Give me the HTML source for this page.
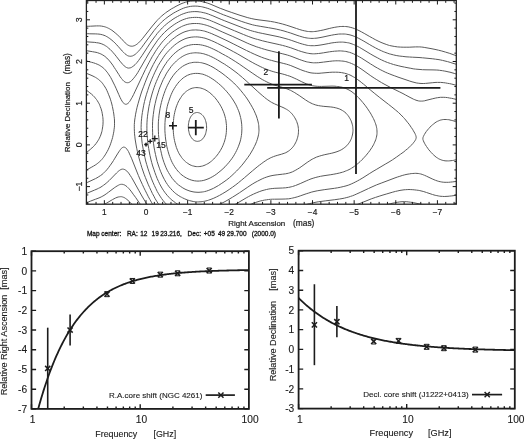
<!DOCTYPE html>
<html><head><meta charset="utf-8"><style>
html,body{margin:0;padding:0;background:#fff;}
svg{display:block;will-change:transform;}
text{font-family:"Liberation Sans", sans-serif;fill:#1a1a1a;}
.ct{stroke:#1a1a1a;stroke-width:0.12;}
</style></head><body>
<svg width="525" height="439" viewBox="0 0 525 439">
<rect width="525" height="439" fill="#fff"/>
<clipPath id="cpc"><rect x="86.4" y="0.5" width="369.9" height="203.7"/></clipPath>
<path clip-path="url(#cpc)" fill="none" stroke="#5a5a5a" stroke-width="1.0" d="M198.6,141.2 199.5,141.0 200.2,140.7 200.8,140.4 201.2,140.1 202.0,139.5 202.8,138.8 203.5,137.8 204.1,137.0 204.6,136.0 205.1,135.0 205.6,133.8 205.9,132.5 206.2,131.2 206.4,130.0 206.6,128.5 206.6,127.0 206.5,125.8 206.4,124.2 206.2,123.0 205.9,121.8 205.5,120.5 205.1,119.2 204.6,118.2 204.0,117.2 203.4,116.2 202.8,115.5 202.0,114.7 201.2,114.0 200.2,113.4 199.5,113.0 198.5,112.7 198.0,112.6 197.5,112.5 196.8,112.5 196.2,112.6 195.8,112.7 195.0,112.9 194.5,113.1 194.0,113.4 193.2,113.9 192.5,114.5 191.8,115.4 191.1,116.2 190.5,117.2 190.0,118.2 189.5,119.5 189.0,121.0 188.8,122.3 188.5,123.8 188.4,125.2 188.3,126.8 188.4,128.2 188.5,129.8 188.8,131.1 189.1,132.5 189.4,133.8 189.9,135.0 190.5,136.2 191.1,137.2 191.8,138.2 192.5,139.1 193.2,139.7 194.0,140.3 194.5,140.6 195.0,140.8 195.8,141.1 196.2,141.2 196.8,141.3 197.2,141.4 197.8,141.3 198.6,141.2M199.9,166.5 201.2,166.3 202.5,166.0 204.0,165.5 205.2,165.0 206.5,164.4 207.8,163.7 209.0,163.0 210.2,162.1 211.5,161.1 212.7,160.0 213.8,159.0 215.0,157.7 216.2,156.3 217.3,155.0 218.4,153.5 219.4,152.0 220.4,150.5 221.2,149.0 222.0,147.5 222.8,145.8 223.5,144.1 224.1,142.5 224.6,141.0 225.1,139.2 225.5,137.6 225.8,136.0 226.1,134.2 226.3,132.5 226.4,130.8 226.5,129.0 226.5,127.2 226.5,125.5 226.3,123.8 226.1,122.0 225.9,120.2 225.5,118.5 225.1,116.8 224.6,115.0 224.0,113.2 223.5,111.8 222.7,110.0 222.0,108.4 221.2,106.8 220.2,105.1 219.3,103.5 218.2,102.0 217.2,100.5 216.0,99.0 214.8,97.5 213.5,96.1 212.2,94.9 211.0,93.8 209.8,92.7 208.5,91.8 207.2,90.9 206.0,90.2 204.8,89.5 203.5,89.0 202.2,88.5 200.8,88.1 199.5,87.8 198.2,87.7 197.0,87.6 195.8,87.6 194.5,87.7 193.2,88.0 192.2,88.2 191.0,88.6 189.8,89.2 188.8,89.7 187.5,90.5 186.5,91.2 185.5,92.0 184.5,92.9 183.5,94.0 182.5,95.1 181.7,96.2 180.8,97.6 179.9,99.0 179.0,100.5 178.2,102.0 177.5,103.7 176.9,105.2 176.2,107.0 175.7,108.8 175.1,110.8 174.7,112.5 174.3,114.5 173.9,116.5 173.7,118.5 173.5,120.5 173.3,122.5 173.2,124.5 173.2,126.5 173.2,128.8 173.3,130.8 173.4,132.8 173.6,134.8 173.8,136.5 174.1,138.5 174.5,140.4 174.9,142.2 175.4,144.0 175.9,145.8 176.4,147.5 177.0,149.0 177.7,150.8 178.4,152.2 179.2,153.8 180.0,155.1 180.8,156.2 181.6,157.5 182.5,158.6 183.5,159.7 184.5,160.8 185.5,161.7 186.5,162.5 187.8,163.4 189.0,164.2 190.0,164.8 191.2,165.3 192.5,165.8 193.8,166.1 195.0,166.4 196.2,166.6 197.5,166.6 198.8,166.6 199.9,166.5M199.6,181.0 201.5,180.8 203.2,180.5 205.0,180.0 207.0,179.3 209.0,178.5 210.8,177.6 212.8,176.5 214.8,175.3 216.8,173.9 218.9,172.2 221.0,170.5 223.0,168.7 225.0,166.8 226.8,164.8 228.6,162.8 230.2,160.8 231.7,158.8 233.1,156.8 234.3,154.8 235.6,152.5 236.6,150.5 237.7,148.2 238.5,146.2 239.3,144.0 240.0,142.0 240.6,139.8 241.0,137.8 241.4,135.5 241.7,133.2 241.8,131.0 241.9,128.8 241.8,126.5 241.7,124.2 241.4,122.0 241.1,119.8 240.6,117.5 240.0,115.2 239.4,113.0 238.6,110.8 237.6,108.5 236.6,106.2 235.6,104.2 234.3,102.0 233.1,100.0 231.6,97.8 230.2,95.8 228.6,93.8 226.9,91.8 225.0,89.6 222.9,87.5 220.8,85.5 218.5,83.5 216.4,81.8 214.2,80.1 212.2,78.8 210.2,77.5 208.4,76.5 206.5,75.6 204.5,74.8 202.8,74.2 201.8,74.0 200.8,73.8 199.0,73.5 197.2,73.4 195.5,73.4 193.8,73.5 192.2,73.8 190.5,74.2 189.0,74.7 187.5,75.3 186.0,76.1 184.6,77.0 183.2,77.9 181.8,79.2 180.5,80.3 179.1,81.8 177.9,83.2 176.7,84.8 175.5,86.5 174.3,88.5 173.2,90.3 172.2,92.3 171.2,94.5 170.3,96.8 169.5,99.0 168.7,101.5 167.9,104.0 167.2,106.7 166.7,109.2 166.2,112.0 165.8,114.6 165.4,117.2 165.2,120.0 165.0,122.5 164.9,125.2 164.9,128.0 164.9,130.8 165.1,133.5 165.3,136.2 165.6,139.0 166.0,141.5 166.4,144.2 166.9,146.8 167.5,149.3 168.2,151.8 168.9,154.2 169.7,156.5 170.5,158.6 171.4,160.8 172.2,162.5 173.3,164.5 174.3,166.2 175.5,168.0 176.6,169.5 177.8,171.0 179.2,172.5 180.5,173.8 182.0,175.1 183.5,176.2 185.0,177.2 186.5,178.0 188.0,178.8 189.8,179.5 191.2,180.0 193.0,180.5 194.5,180.8 196.2,181.0 198.0,181.1 199.6,181.0M200.1,192.2 202.2,192.0 203.5,191.8 204.5,191.6 206.5,191.1 208.8,190.3 211.0,189.4 213.5,188.3 216.0,186.9 218.5,185.5 221.2,183.7 224.0,181.8 226.8,179.8 229.3,177.8 231.9,175.5 234.3,173.2 236.6,171.0 239.0,168.5 241.4,165.8 243.7,163.0 245.8,160.2 247.8,157.5 249.7,154.8 251.4,152.0 253.0,149.2 254.4,146.5 255.6,144.0 256.6,141.5 257.4,139.2 258.0,137.0 258.5,134.8 258.7,133.8 258.8,132.5 258.9,131.5 259.0,130.2 258.9,128.0 258.8,125.8 258.6,124.5 258.4,123.2 257.9,121.0 257.2,118.5 256.4,116.0 255.2,113.2 254.0,110.5 252.6,107.8 250.9,104.8 249.2,102.0 247.3,99.0 245.3,96.2 243.2,93.5 241.0,90.8 238.6,88.0 236.3,85.5 233.8,83.0 231.1,80.5 228.2,78.1 225.4,75.8 222.0,73.2 218.8,71.0 215.8,69.0 213.0,67.3 210.5,66.0 208.2,64.9 206.0,64.0 204.0,63.4 202.8,63.1 201.8,62.8 200.5,62.6 199.5,62.5 198.2,62.3 197.2,62.3 195.2,62.3 194.2,62.3 193.2,62.4 191.5,62.7 190.5,62.9 189.5,63.1 187.8,63.7 186.0,64.5 184.2,65.4 182.5,66.4 180.8,67.7 179.2,69.0 177.5,70.6 176.0,72.1 174.4,74.0 173.0,75.8 171.5,78.0 170.1,80.2 168.9,82.5 167.5,85.2 166.3,87.8 165.2,90.5 164.1,93.5 163.1,96.5 162.2,99.5 161.4,102.5 160.6,105.8 160.0,108.8 159.5,112.0 159.0,115.2 158.7,118.5 158.4,121.8 158.3,125.0 158.3,128.0 158.4,131.2 158.5,134.5 158.8,137.8 159.1,141.0 159.6,144.2 160.1,147.5 160.8,150.7 161.5,153.8 162.2,156.8 163.1,159.8 164.0,162.5 165.0,165.1 166.1,167.8 167.2,170.2 168.5,172.5 169.8,174.7 171.0,176.6 172.3,178.5 173.8,180.2 175.3,182.0 177.0,183.6 178.6,185.0 180.3,186.2 182.2,187.5 184.0,188.6 186.0,189.6 188.0,190.4 190.0,191.1 192.0,191.6 194.0,192.0 196.0,192.2 198.0,192.3 199.0,192.3 200.1,192.2M201.0,201.8 202.2,201.6 203.5,201.4 204.8,201.2 206.0,200.9 207.2,200.6 208.5,200.2 211.0,199.3 213.8,198.2 216.5,196.9 219.5,195.4 222.8,193.5 226.0,191.6 229.2,189.5 232.5,187.2 235.8,184.8 238.7,182.5 241.7,180.0 244.7,177.5 252.5,170.8 257.2,166.9 259.5,165.1 261.8,163.4 263.8,161.9 265.8,160.6 267.2,159.6 268.8,158.8 270.2,158.0 271.8,157.3 273.5,156.6 275.2,156.0 277.2,155.4 281.5,154.2 283.0,153.7 284.2,153.3 285.8,152.7 287.0,152.0 288.2,151.3 289.2,150.6 290.2,149.8 291.2,148.9 292.2,147.8 293.1,146.8 294.0,145.5 294.8,144.2 295.5,142.9 296.2,141.5 296.8,140.1 297.2,138.8 297.7,137.2 298.0,135.8 298.3,134.2 298.4,132.8 298.5,131.2 298.5,129.8 298.4,128.5 298.2,127.0 298.0,125.8 297.6,124.2 297.2,123.0 296.7,121.5 296.1,120.2 295.5,119.0 294.8,117.8 294.0,116.5 293.2,115.4 292.3,114.2 291.4,113.2 290.5,112.3 289.5,111.4 288.5,110.6 287.5,109.9 286.5,109.3 285.2,108.6 284.1,108.0 281.9,107.0 276.0,104.5 274.5,103.8 273.0,103.1 271.5,102.3 270.2,101.5 269.0,100.7 267.8,99.9 266.2,98.7 264.5,97.4 262.8,95.9 261.0,94.4 257.2,91.0 249.4,83.8 246.1,80.8 242.4,77.5 238.8,74.5 237.0,73.0 235.0,71.5 233.0,70.0 230.9,68.5 228.8,67.0 226.8,65.7 224.6,64.2 222.2,62.8 217.6,60.0 215.5,58.8 213.8,57.9 212.0,57.0 210.2,56.2 208.5,55.4 207.0,54.9 205.2,54.3 203.8,53.8 202.2,53.5 200.8,53.2 199.2,53.0 197.8,52.9 196.2,52.8 194.8,52.8 193.5,52.9 192.5,53.0 190.5,53.3 189.2,53.6 188.2,53.9 187.2,54.2 186.2,54.6 185.2,55.0 184.2,55.5 183.2,56.0 182.2,56.6 180.4,57.8 179.5,58.4 178.5,59.2 177.5,60.0 176.5,60.9 174.8,62.6 173.0,64.4 171.2,66.5 169.5,68.9 167.9,71.2 166.2,73.9 164.8,76.7 163.2,79.6 161.8,82.8 160.5,85.9 159.2,89.2 158.1,92.8 157.0,96.2 156.0,99.9 155.2,103.5 154.4,107.0 153.8,110.8 153.3,114.5 152.9,118.0 152.6,121.8 152.5,125.2 152.5,128.5 152.6,132.2 152.7,135.8 153.1,139.5 153.5,143.2 154.0,147.0 154.7,150.8 155.5,154.5 156.3,158.0 157.2,161.6 158.3,165.0 159.4,168.2 160.5,171.2 161.8,174.2 163.1,177.0 164.5,179.7 166.0,182.3 167.5,184.6 169.1,186.8 170.8,188.7 172.5,190.6 174.2,192.2 175.2,193.1 176.2,193.9 178.2,195.3 180.2,196.6 181.4,197.2 182.5,197.8 184.8,198.9 186.0,199.4 187.2,199.9 188.5,200.3 189.8,200.7 192.0,201.2 193.2,201.5 194.2,201.6 195.5,201.8 196.5,201.8 197.5,201.9 198.8,201.9 200.0,201.8 201.0,201.8M213.5,207.0 215.2,206.3 217.1,205.5 219.0,204.6 221.0,203.6 225.0,201.6 229.0,199.3 232.5,197.2 236.0,195.0 239.4,192.8 247.8,187.1 250.0,185.6 252.2,184.2 255.0,182.5 257.5,181.2 260.0,179.9 262.2,178.8 264.5,177.8 266.8,177.0 269.0,176.3 271.0,175.8 273.0,175.4 275.0,175.1 277.2,174.8 282.5,174.2 285.5,173.8 287.0,173.5 288.5,173.2 289.8,172.8 291.0,172.4 292.5,171.8 294.1,171.0 295.8,170.1 297.5,169.1 299.3,168.0 301.1,166.8 307.2,162.4 309.8,160.7 311.0,159.9 312.2,159.2 313.8,158.4 315.0,157.8 316.5,157.1 318.0,156.6 319.5,156.1 321.2,155.6 324.2,154.8 329.8,153.6 331.8,153.2 334.0,152.6 336.0,152.0 338.0,151.3 339.9,150.5 340.9,150.0 341.8,149.5 343.2,148.6 344.2,147.9 345.0,147.2 345.9,146.5 346.8,145.7 347.5,144.9 348.2,144.0 348.8,143.2 349.5,142.2 350.1,141.2 350.6,140.2 351.1,139.2 351.5,138.2 351.8,137.2 352.1,136.2 352.4,135.0 352.6,134.0 352.8,133.0 352.9,131.8 353.0,130.8 353.0,129.8 352.9,128.8 352.8,127.5 352.7,126.5 352.5,125.2 352.2,124.2 351.9,123.0 351.5,121.9 351.1,120.8 350.6,119.8 350.1,118.8 349.5,117.8 349.0,116.9 348.0,115.5 347.0,114.3 346.0,113.2 344.9,112.2 343.8,111.4 342.4,110.5 341.0,109.7 339.5,109.0 338.1,108.5 336.8,108.1 335.2,107.7 333.8,107.4 332.0,107.1 330.2,106.9 323.2,106.3 321.8,106.1 320.2,105.9 318.5,105.6 317.0,105.3 315.2,104.8 313.8,104.3 312.5,103.8 311.0,103.1 309.8,102.5 308.2,101.6 305.5,99.9 299.2,95.5 296.2,93.6 294.8,92.7 293.2,91.8 291.8,91.0 290.5,90.3 289.2,89.8 288.0,89.3 286.8,88.8 285.2,88.3 282.8,87.5 276.0,85.5 274.2,85.0 272.8,84.5 271.2,83.9 269.8,83.3 268.2,82.6 266.8,81.9 264.5,80.7 262.2,79.5 259.8,78.0 257.2,76.4 255.0,74.9 252.2,73.0 243.2,66.8 239.2,64.0 235.2,61.4 231.2,58.9 228.4,57.2 225.4,55.5 222.2,53.8 218.5,51.7 216.0,50.4 213.8,49.3 211.8,48.4 209.8,47.5 207.8,46.7 206.0,46.1 204.2,45.6 202.5,45.2 200.5,44.8 198.8,44.6 197.0,44.5 195.2,44.5 193.5,44.5 191.8,44.7 190.0,45.0 188.5,45.4 186.8,45.9 185.2,46.4 183.8,47.1 182.2,47.9 180.5,48.9 178.8,50.0 177.0,51.3 175.2,52.8 173.6,54.2 172.0,55.9 170.3,57.8 168.8,59.6 167.2,61.5 165.8,63.7 164.2,66.0 162.9,68.2 161.5,70.7 160.2,73.0 158.9,75.8 157.7,78.5 156.4,81.5 155.2,84.5 154.1,87.5 153.0,90.8 152.0,94.0 151.2,97.0 150.3,100.2 149.6,103.5 148.9,106.8 148.4,110.0 147.9,113.2 147.5,116.2 147.2,119.2 147.0,122.2 146.9,125.2 146.9,128.2 146.9,131.5 147.1,135.0 147.4,138.2 147.7,141.8 148.1,145.0 148.7,148.5 149.3,152.0 150.0,155.5 150.8,159.0 151.7,162.5 152.7,166.0 153.8,169.2 154.9,172.5 156.0,175.5 157.2,178.6 158.5,181.4 159.6,183.8 160.8,186.0 162.0,188.1 163.3,190.2 164.7,192.2 166.0,193.9 167.5,195.7 168.9,197.2 170.4,198.8 172.0,200.2 173.8,201.5 175.5,202.8 177.2,203.9 179.2,205.1 181.2,206.1 183.3,207.0M230.5,207.0 233.2,205.5 235.9,204.0 246.2,197.9 248.5,196.6 250.8,195.4 253.5,194.1 256.2,192.9 259.2,191.7 262.0,190.7 264.2,190.1 266.5,189.5 268.8,189.0 270.8,188.7 272.8,188.5 274.8,188.3 282.5,188.0 285.5,187.8 287.0,187.6 288.5,187.4 290.0,187.1 291.2,186.8 292.5,186.5 294.0,186.0 295.5,185.5 297.0,184.9 300.2,183.6 306.2,180.9 308.5,179.9 311.0,178.9 313.8,178.0 315.2,177.6 317.0,177.1 318.8,176.7 320.5,176.3 324.0,175.7 330.8,174.7 333.8,174.2 336.8,173.6 339.5,173.0 341.0,172.6 342.5,172.2 343.8,171.8 345.2,171.2 346.5,170.7 347.8,170.2 349.0,169.6 350.2,169.0 351.5,168.2 353.0,167.3 354.5,166.2 355.8,165.2 357.2,164.1 358.8,162.8 360.2,161.5 361.5,160.2 363.0,158.8 364.4,157.2 365.7,155.8 367.2,154.0 368.4,152.5 369.7,150.8 370.9,149.0 371.9,147.5 372.8,146.0 373.5,144.8 374.1,143.5 374.7,142.2 375.2,141.0 375.7,139.8 376.1,138.5 376.4,137.2 376.7,136.0 376.9,134.8 377.0,133.5 377.0,132.2 377.0,131.0 376.9,129.8 376.8,128.5 376.5,127.2 376.3,126.2 376.0,125.0 375.6,123.8 375.1,122.5 374.6,121.2 374.1,120.0 373.4,118.5 372.7,117.2 371.9,115.8 371.1,114.2 369.2,111.2 367.2,108.2 365.0,105.2 362.8,102.5 360.7,100.0 358.5,97.6 357.4,96.5 356.2,95.4 355.2,94.5 354.1,93.5 353.0,92.7 352.0,91.9 351.0,91.2 350.0,90.6 349.0,90.0 348.0,89.5 347.0,89.0 345.8,88.5 344.5,88.0 343.2,87.6 341.9,87.2 340.5,86.9 339.2,86.7 337.8,86.5 336.5,86.4 335.0,86.2 332.0,86.1 329.0,86.2 321.5,86.4 319.2,86.4 317.2,86.3 315.0,86.1 312.8,85.8 311.8,85.6 310.5,85.2 308.5,84.6 306.5,83.9 304.2,82.9 301.8,81.8 296.6,79.2 294.2,78.1 291.8,77.0 289.8,76.2 287.5,75.5 284.8,74.6 282.2,73.9 275.2,72.2 273.2,71.6 271.2,71.0 269.2,70.3 267.0,69.5 264.8,68.6 262.5,67.6 260.2,66.5 257.8,65.3 255.2,64.0 252.8,62.7 248.5,60.3 237.2,53.7 233.7,51.8 230.0,49.8 224.7,47.0 217.7,43.5 214.2,41.8 211.2,40.5 209.0,39.6 207.0,38.9 205.0,38.2 203.2,37.8 201.2,37.4 199.2,37.1 197.2,36.9 195.5,36.9 194.2,36.9 193.2,37.0 191.2,37.2 190.0,37.4 189.0,37.6 187.0,38.1 185.0,38.8 183.0,39.7 181.0,40.7 179.0,41.9 177.8,42.7 176.8,43.4 174.8,44.9 172.8,46.7 170.8,48.5 168.9,50.5 167.0,52.6 165.2,54.8 163.5,57.2 161.8,59.8 160.0,62.6 158.2,65.6 156.6,68.8 154.9,72.2 153.3,75.8 151.8,79.2 150.3,83.0 148.9,86.8 147.7,90.5 146.5,94.2 145.4,98.0 144.5,101.5 143.7,105.2 143.0,109.0 142.4,112.5 141.9,115.8 141.6,118.8 141.3,121.8 141.2,124.8 141.1,127.5 141.2,130.5 141.3,133.5 141.5,136.8 141.8,140.0 142.2,143.5 142.8,147.0 143.4,150.5 144.1,154.0 144.9,157.5 145.7,161.0 146.7,164.5 147.8,168.2 149.0,171.8 150.2,175.2 151.5,178.8 152.9,182.2 154.4,185.5 155.8,188.5 157.2,191.4 158.6,193.8 160.0,196.1 161.5,198.4 163.0,200.4 164.5,202.2 166.0,203.9 167.7,205.5 169.4,207.0M84.0,154.6 90.2,149.5 91.9,148.0 93.2,146.7 94.8,145.1 96.0,143.6 97.2,141.9 98.3,140.2 98.9,139.2 99.4,138.2 100.3,136.2 100.8,135.0 101.1,134.0 101.8,131.8 102.1,130.5 102.3,129.2 102.7,126.8 103.0,124.2 103.0,123.0 103.1,121.8 103.0,119.2 102.9,117.8 102.7,116.5 102.5,115.0 102.3,113.8 101.8,111.2 101.4,110.0 101.1,108.8 100.2,106.5 99.8,105.3 99.3,104.2 98.8,103.2 98.2,102.2 97.2,100.5 96.5,99.5 95.9,98.8 95.2,97.9 94.5,97.0 93.0,95.5 91.5,94.1 89.8,92.8 88.2,91.5 84.0,88.4M245.1,207.0 247.5,205.8 249.8,204.7 251.8,203.9 253.8,203.1 255.8,202.4 258.0,201.7 260.2,201.0 262.5,200.5 264.5,200.1 266.5,199.8 268.5,199.5 270.5,199.3 272.5,199.2 274.5,199.2 282.0,199.1 285.2,199.0 287.0,198.9 288.5,198.8 290.0,198.6 291.5,198.3 292.8,198.0 294.2,197.7 297.2,196.9 300.2,195.9 306.2,193.8 308.8,193.0 311.2,192.2 314.0,191.5 317.2,190.8 321.0,190.2 324.8,189.6 334.5,188.3 337.5,187.8 340.2,187.3 343.2,186.6 346.0,185.9 348.8,185.0 351.2,184.0 353.2,183.1 355.2,182.1 357.3,181.0 359.5,179.8 362.9,177.8 369.8,173.4 373.0,171.4 376.8,169.2 385.2,164.2 389.0,162.0 392.5,159.8 396.6,157.0 400.5,154.2 403.9,151.8 405.7,150.2 407.5,148.8 409.2,147.2 410.5,146.0 411.8,144.8 412.9,143.5 413.9,142.2 414.7,141.2 415.3,140.2 415.7,139.5 415.9,139.0 416.0,138.5 416.2,137.8 416.1,137.0 416.0,136.2 415.8,135.5 415.4,134.5 414.8,133.2 414.1,132.0 413.4,130.8 412.5,129.2 411.3,127.5 410.3,126.0 409.1,124.2 407.9,122.8 405.7,120.0 404.7,118.8 403.5,117.5 401.1,115.0 398.5,112.5 395.3,109.8 391.9,107.0 388.7,104.5 379.8,97.6 374.8,93.6 370.8,90.3 363.6,84.2 361.8,82.8 360.0,81.3 357.2,79.3 354.8,77.6 353.5,76.9 352.2,76.2 351.0,75.5 350.0,75.0 348.7,74.5 347.2,74.0 346.0,73.6 344.5,73.2 343.0,72.9 341.5,72.6 340.0,72.4 338.5,72.3 337.0,72.2 335.5,72.2 334.0,72.2 332.2,72.2 329.2,72.4 321.2,73.1 319.0,73.3 316.8,73.3 314.2,73.2 312.0,73.0 310.0,72.7 307.8,72.1 305.5,71.4 303.0,70.6 300.2,69.5 293.0,66.5 290.8,65.6 288.8,64.9 286.5,64.2 283.8,63.5 274.0,61.1 271.5,60.4 269.5,59.9 267.0,59.1 264.2,58.2 261.5,57.2 259.0,56.2 254.8,54.4 250.5,52.4 246.5,50.5 237.2,45.8 233.2,43.8 228.0,41.2 217.0,36.0 214.2,34.8 211.8,33.7 209.5,32.8 207.5,32.1 206.0,31.6 204.8,31.2 203.5,30.9 202.2,30.6 200.8,30.4 199.5,30.2 198.2,30.1 197.0,30.0 195.5,29.9 194.2,30.0 193.0,30.0 191.8,30.1 190.5,30.3 189.2,30.5 188.2,30.8 187.0,31.1 185.0,31.7 183.0,32.5 181.0,33.5 179.0,34.6 176.8,36.0 174.8,37.5 172.8,39.0 170.8,40.7 168.9,42.5 167.0,44.4 165.2,46.4 163.5,48.5 161.8,50.8 160.2,53.0 158.5,55.5 157.0,58.0 155.1,61.2 153.3,64.5 151.5,68.0 149.8,71.5 148.1,75.2 146.5,79.0 145.0,82.8 143.5,86.8 141.9,91.0 140.6,95.0 139.4,99.0 138.2,103.2 137.1,107.2 136.3,110.8 135.6,114.2 135.1,117.5 134.7,120.0 134.5,122.2 134.3,124.5 134.3,126.8 134.3,128.8 134.4,131.2 134.5,133.8 134.8,136.2 135.1,139.0 135.6,142.0 136.1,145.0 136.7,148.2 137.4,151.5 138.2,154.8 139.0,158.0 139.9,161.2 140.9,164.5 141.9,167.8 143.0,171.0 144.1,174.2 145.4,177.5 146.8,181.0 148.1,184.2 149.6,187.5 151.0,190.5 152.4,193.5 153.9,196.2 155.2,198.8 156.7,201.2 158.0,203.3 159.2,205.1 160.7,207.0M84.0,171.5 86.2,170.2 91.2,167.4 93.5,166.1 95.8,164.7 96.8,164.0 97.8,163.2 98.8,162.4 99.8,161.5 100.8,160.6 101.8,159.5 102.6,158.5 103.5,157.4 104.3,156.2 105.2,154.9 106.2,153.2 107.2,151.5 108.1,149.8 109.0,147.8 109.9,145.8 110.6,143.8 111.3,141.8 112.0,139.5 112.6,137.5 113.1,135.2 113.5,133.2 113.9,131.2 114.1,129.2 114.4,127.2 114.5,125.2 114.5,123.2 114.5,121.0 114.4,118.8 114.1,116.5 113.8,114.0 113.4,111.5 112.9,109.0 112.4,106.5 111.8,104.0 111.1,101.5 110.4,99.2 109.6,97.0 108.7,94.8 107.9,92.8 107.0,90.7 106.0,88.7 105.0,87.0 104.2,85.8 103.2,84.3 102.4,83.2 101.5,82.2 100.5,81.2 99.5,80.2 98.5,79.4 97.5,78.7 96.5,78.0 95.5,77.4 94.2,76.7 93.0,76.1 91.0,75.2 86.2,73.2 84.0,72.3M459.0,122.9 457.2,122.2 455.5,121.6 454.0,121.0 452.8,120.7 451.2,120.3 450.0,120.0 448.8,119.7 447.5,119.6 446.2,119.5 445.0,119.5 443.8,119.5 442.8,119.6 441.8,119.8 440.8,120.0 439.8,120.3 438.7,120.8 437.5,121.3 436.2,122.0 435.0,122.8 433.8,123.8 432.5,124.8 431.2,126.0 429.9,127.2 428.8,128.5 427.5,130.0 426.3,131.5 425.3,133.0 424.4,134.5 423.7,135.8 423.4,136.5 423.2,137.0 423.0,137.5 422.9,138.0 422.9,138.8 422.9,139.2 423.0,139.8 423.4,140.8 423.9,142.0 424.5,143.2 425.4,144.8 426.5,146.5 427.7,148.2 428.8,149.8 430.1,151.2 431.2,152.5 432.5,153.9 433.8,155.1 435.0,156.2 436.2,157.2 437.5,158.0 438.7,158.8 439.8,159.3 440.8,159.7 441.8,160.1 442.8,160.4 443.8,160.6 445.0,160.8 446.0,160.9 447.2,160.9 448.5,160.9 449.8,160.8 451.0,160.7 452.4,160.5 453.8,160.3 455.2,159.9 459.0,159.0M459.0,100.2 456.2,99.4 453.8,98.8 451.5,98.3 449.5,98.0 447.5,97.6 445.5,97.4 443.8,97.3 442.0,97.3 440.5,97.3 439.0,97.5 437.5,97.7 435.8,98.0 432.8,98.7 426.0,100.4 424.5,100.8 423.2,101.0 422.2,101.1 421.5,101.1 420.8,101.1 420.0,101.1 419.2,101.0 418.5,100.9 417.0,100.5 416.0,100.2 414.8,99.7 413.5,99.2 412.0,98.4 410.0,97.4 405.2,94.8 403.0,93.6 399.8,92.0 390.2,87.3 387.0,85.6 384.0,84.0 381.5,82.6 379.0,81.1 376.8,79.7 374.2,78.1 370.2,75.4 362.0,69.5 360.0,68.2 358.0,66.9 355.8,65.6 353.5,64.4 351.5,63.5 349.5,62.7 348.2,62.3 347.0,61.9 345.8,61.6 344.2,61.3 343.0,61.1 341.5,61.0 340.2,60.9 338.8,60.8 337.2,60.8 335.8,60.8 334.2,60.9 332.5,61.0 329.2,61.4 323.5,62.1 321.0,62.4 318.5,62.7 316.2,62.8 314.8,62.8 313.5,62.8 312.2,62.7 311.0,62.6 310.0,62.4 308.8,62.2 307.5,62.0 306.2,61.7 304.2,61.1 301.8,60.3 299.2,59.4 292.0,56.6 289.8,55.8 287.5,55.1 285.0,54.4 282.2,53.7 271.8,51.2 267.0,50.0 264.2,49.2 261.5,48.4 258.8,47.5 256.2,46.7 254.0,45.8 252.0,45.1 249.8,44.2 247.2,43.1 244.0,41.6 232.8,36.5 222.2,31.9 214.8,28.5 211.0,26.9 209.2,26.2 207.8,25.7 206.2,25.2 204.8,24.8 203.2,24.4 201.8,24.1 200.2,23.8 198.8,23.6 196.5,23.5 194.2,23.5 192.0,23.6 190.8,23.8 189.8,23.9 187.8,24.3 185.8,24.9 183.8,25.6 182.8,26.0 181.5,26.6 179.2,27.8 177.0,29.1 175.8,29.9 174.5,30.7 172.2,32.4 170.0,34.2 167.8,36.2 165.8,38.2 163.8,40.3 162.2,42.1 160.8,43.9 159.4,45.8 158.0,47.6 156.7,49.5 155.2,51.8 153.8,54.2 152.2,56.7 150.5,59.8 148.9,62.8 147.2,66.0 145.4,69.5 142.4,75.8 135.2,91.1 133.5,94.7 132.0,97.6 131.2,98.9 130.5,100.2 129.8,101.3 129.0,102.3 128.2,103.1 127.8,103.6 127.2,103.9 127.0,104.0 126.5,104.2 126.0,104.3 125.8,104.3 125.2,104.2 124.8,104.0 124.2,103.7 123.8,103.3 123.2,102.8 122.8,102.2 122.0,101.1 121.0,99.3 120.0,97.3 118.8,94.6 116.0,88.2 114.6,85.2 113.0,82.0 111.6,79.2 110.8,77.7 109.9,76.2 109.0,74.9 108.1,73.5 107.2,72.2 106.2,71.1 105.5,70.2 104.6,69.2 103.8,68.4 103.0,67.7 102.1,67.0 101.2,66.4 100.2,65.7 99.2,65.1 98.2,64.6 97.2,64.2 95.5,63.5 93.5,62.8 91.5,62.3 86.8,61.0 84.0,60.2M84.0,184.1 85.5,183.3 87.2,182.5 94.0,179.3 95.5,178.6 97.0,177.8 98.8,176.7 100.5,175.6 102.0,174.5 103.5,173.2 104.2,172.5 105.2,171.5 106.8,169.8 108.5,167.7 110.3,165.2 111.9,163.0 113.5,160.5 114.9,158.2 117.5,153.9 118.8,151.9 119.8,150.4 120.5,149.4 121.2,148.5 121.8,148.1 122.2,147.7 122.8,147.4 123.2,147.2 123.8,147.1 124.2,147.2 124.8,147.3 125.2,147.5 125.8,147.9 126.2,148.4 127.0,149.2 127.5,150.0 128.0,150.8 128.5,151.6 129.2,153.1 130.2,155.3 131.5,158.2 136.2,170.0 138.4,175.5 140.3,180.0 142.4,184.5 143.9,187.8 145.4,190.8 146.9,193.8 148.4,196.8 149.9,199.5 151.4,202.2 152.9,204.8 154.2,207.0M297.4,207.0 300.5,206.2 306.8,204.4 309.2,203.7 312.0,203.1 315.0,202.4 318.2,201.8 322.0,201.3 325.8,200.8 334.8,199.7 339.5,199.0 342.0,198.6 344.5,198.1 346.8,197.5 348.8,197.0 350.5,196.4 352.4,195.8 354.2,195.1 356.2,194.2 360.2,192.4 368.5,188.5 372.0,186.9 376.5,184.9 381.8,182.9 395.0,177.9 397.5,177.0 399.8,176.3 402.2,175.5 404.8,174.8 407.0,174.3 409.5,173.9 411.2,173.6 412.8,173.5 414.2,173.4 415.8,173.3 417.0,173.4 418.2,173.5 419.5,173.7 420.5,173.9 422.2,174.4 423.2,174.8 424.5,175.3 426.5,176.2 432.2,178.9 434.0,179.7 435.5,180.3 437.2,180.9 438.8,181.4 440.2,181.7 441.8,182.0 443.2,182.2 445.0,182.3 446.8,182.3 448.5,182.3 450.5,182.1 452.5,181.9 459.0,181.1M459.0,86.1 456.2,85.3 454.0,84.7 451.8,84.1 449.5,83.6 447.5,83.3 445.5,82.9 443.8,82.7 442.0,82.5 440.5,82.4 439.0,82.4 437.5,82.4 436.0,82.4 432.8,82.7 425.5,83.4 423.8,83.5 422.0,83.5 420.0,83.4 418.2,83.2 416.2,82.9 414.0,82.3 412.0,81.8 409.8,81.1 398.0,77.1 394.8,75.9 392.0,74.9 389.8,74.0 387.5,73.1 385.2,72.1 382.8,70.9 380.2,69.6 377.5,68.1 375.0,66.7 372.8,65.3 370.5,63.9 361.8,58.3 359.6,57.0 357.8,56.0 355.5,54.8 353.5,53.8 351.5,53.0 349.5,52.3 348.2,52.0 347.0,51.7 345.8,51.4 344.5,51.3 343.2,51.1 341.8,51.0 340.5,50.9 339.0,50.9 337.5,51.0 336.0,51.1 334.5,51.2 332.8,51.4 329.5,51.8 323.5,52.8 321.0,53.2 318.5,53.5 316.2,53.7 314.8,53.8 313.5,53.8 312.2,53.8 311.0,53.7 310.0,53.6 308.8,53.4 307.5,53.2 306.2,52.9 304.0,52.3 301.2,51.5 298.5,50.6 290.8,47.8 288.2,47.0 285.5,46.2 282.5,45.4 279.2,44.6 267.5,42.0 262.5,40.8 260.0,40.1 257.5,39.4 255.2,38.8 253.0,38.1 251.0,37.4 248.8,36.6 246.2,35.6 243.5,34.5 234.6,30.8 224.0,26.4 220.5,24.9 213.5,21.8 211.5,21.0 209.6,20.2 206.8,19.3 205.2,18.8 204.0,18.5 202.5,18.1 201.2,17.9 200.0,17.7 198.5,17.5 196.5,17.4 194.5,17.4 192.5,17.5 190.5,17.7 188.5,18.0 186.5,18.5 184.8,19.1 182.8,19.8 180.8,20.7 178.5,21.9 176.5,23.1 174.2,24.5 172.1,26.0 170.0,27.6 168.0,29.2 166.0,31.0 164.5,32.4 162.9,34.0 161.5,35.6 160.0,37.3 158.6,39.0 157.2,40.8 155.8,42.9 154.3,45.0 151.8,48.8 149.1,53.0 145.9,58.5 141.0,67.0 139.0,70.4 137.8,72.5 136.8,74.1 135.0,76.6 134.0,77.9 133.2,78.8 132.2,80.0 131.5,80.7 130.8,81.3 130.0,81.9 129.2,82.3 128.5,82.6 127.8,82.7 127.2,82.7 126.5,82.6 125.8,82.4 125.0,82.0 124.2,81.5 123.5,80.8 122.8,80.0 122.2,79.5 121.5,78.5 120.2,76.8 118.8,74.5 115.6,69.5 114.2,67.4 112.8,65.2 111.2,63.0 109.5,60.9 108.7,60.0 107.7,59.0 106.8,58.0 106.0,57.3 105.0,56.5 104.2,55.9 102.8,55.0 101.9,54.5 101.0,54.0 100.2,53.7 99.2,53.3 97.5,52.7 96.0,52.3 94.2,52.0 92.5,51.7 87.2,50.8 85.5,50.5 84.0,50.1M84.0,194.6 85.8,193.8 87.8,192.9 94.5,190.1 97.1,189.0 98.5,188.3 99.8,187.7 101.0,187.0 102.2,186.2 103.6,185.2 105.0,184.2 106.2,183.2 107.8,181.8 109.2,180.5 110.7,179.0 116.5,173.0 117.8,171.8 118.8,170.9 119.5,170.4 120.0,170.0 120.8,169.6 121.2,169.4 122.0,169.2 122.5,169.1 123.0,169.1 123.5,169.2 124.2,169.4 125.0,169.7 125.8,170.2 126.2,170.6 126.8,171.0 127.5,171.8 128.5,172.9 129.2,173.9 130.2,175.4 131.5,177.4 133.0,180.0 139.0,190.8 141.9,196.0 145.2,201.5 148.5,207.0M349.6,207.0 351.2,206.5 352.8,206.1 356.2,204.9 360.0,203.4 368.0,200.2 371.2,198.9 375.5,197.4 379.8,196.0 383.0,195.0 386.8,193.9 392.2,192.3 395.5,191.4 397.8,190.9 400.0,190.4 402.0,190.1 404.0,189.8 405.5,189.7 407.2,189.6 409.0,189.5 410.8,189.6 412.8,189.7 414.8,189.9 416.5,190.1 418.2,190.3 419.8,190.6 421.0,190.9 423.8,191.6 426.5,192.5 432.5,194.5 435.2,195.3 436.8,195.6 438.2,195.9 439.8,196.2 441.0,196.3 442.5,196.4 444.2,196.5 446.0,196.4 448.0,196.3 449.8,196.1 451.8,195.9 459.0,194.9M459.0,74.9 454.2,73.4 450.0,72.2 448.0,71.8 446.0,71.3 444.2,71.0 442.5,70.7 439.5,70.3 438.0,70.1 436.2,70.0 433.0,69.9 426.0,69.8 422.5,69.7 419.0,69.4 415.5,69.1 413.2,68.8 410.8,68.3 408.0,67.8 404.5,67.1 401.0,66.4 398.2,65.7 395.8,65.1 393.5,64.5 390.5,63.5 387.5,62.5 384.5,61.3 381.5,59.9 379.8,59.1 377.8,58.0 374.0,56.0 370.2,53.8 361.9,48.8 359.5,47.4 357.2,46.2 354.8,45.0 353.5,44.5 352.2,44.0 351.0,43.6 349.8,43.2 348.8,42.9 347.5,42.7 346.2,42.5 345.0,42.3 343.8,42.2 342.5,42.1 341.2,42.1 339.8,42.1 338.2,42.2 336.8,42.3 334.2,42.6 331.2,43.0 328.8,43.5 323.0,44.6 320.0,45.1 317.0,45.5 314.5,45.7 313.2,45.7 312.0,45.7 310.8,45.7 309.8,45.6 308.5,45.5 307.2,45.3 304.8,44.7 302.5,44.1 299.8,43.3 297.2,42.4 291.8,40.5 288.8,39.5 286.0,38.7 283.0,37.9 279.2,36.9 275.0,36.0 271.0,35.2 262.8,33.5 258.8,32.7 254.5,31.6 252.5,31.1 250.8,30.6 247.2,29.4 243.5,28.1 228.0,22.1 224.2,20.6 221.2,19.4 212.1,15.5 210.2,14.8 208.5,14.1 207.0,13.6 205.8,13.2 203.2,12.6 201.8,12.3 200.5,12.0 199.2,11.9 198.0,11.7 196.0,11.6 194.2,11.6 192.2,11.7 190.5,11.9 188.5,12.2 186.8,12.6 185.0,13.2 183.2,13.8 181.2,14.6 179.4,15.5 177.5,16.5 175.2,17.8 173.0,19.2 170.8,20.8 168.8,22.2 166.8,23.8 165.2,25.1 163.8,26.5 162.4,27.8 161.0,29.2 159.8,30.6 158.5,32.0 157.2,33.5 155.8,35.4 153.1,39.0 150.1,43.2 147.1,47.8 142.0,55.6 140.2,58.2 138.5,60.6 137.0,62.5 136.0,63.7 135.0,64.7 134.0,65.6 133.2,66.2 132.2,66.9 131.5,67.4 130.8,67.7 130.0,67.9 129.2,68.0 128.5,68.1 128.0,68.0 127.2,67.8 126.5,67.5 125.8,67.1 125.0,66.6 124.2,65.9 123.0,64.7 121.5,63.0 120.0,61.2 116.6,56.8 115.0,54.8 113.3,52.8 111.8,51.1 110.0,49.3 108.2,47.8 107.3,47.0 106.5,46.4 105.5,45.8 104.8,45.3 103.2,44.5 101.8,43.9 100.0,43.3 98.2,42.9 96.5,42.7 94.8,42.4 89.0,42.0 87.2,41.8 85.5,41.6 84.0,41.3M84.0,203.8 86.0,202.9 88.5,201.9 90.5,201.1 95.6,199.2 98.0,198.3 100.0,197.5 101.8,196.6 102.9,196.0 104.0,195.4 105.0,194.7 106.2,193.9 108.5,192.2 114.2,187.9 115.8,186.8 117.0,186.0 117.8,185.6 118.5,185.2 119.2,184.8 119.8,184.6 120.5,184.4 121.0,184.3 121.5,184.3 122.0,184.3 122.8,184.4 123.5,184.6 124.2,184.8 125.2,185.4 126.0,185.9 127.0,186.7 128.0,187.7 129.0,188.7 130.0,189.9 131.0,191.1 133.2,194.2 135.5,197.3 142.2,207.0M377.4,207.0 381.2,205.9 385.5,204.9 390.8,203.6 394.5,202.8 397.2,202.3 399.8,201.9 402.0,201.7 404.2,201.7 406.2,201.7 408.2,201.9 410.5,202.2 413.2,202.6 417.0,203.4 423.8,204.8 433.3,207.0M451.8,207.0 459.0,205.8M459.0,65.3 456.0,64.2 453.0,63.3 450.2,62.4 447.5,61.6 445.0,61.0 442.5,60.4 440.2,59.9 438.0,59.5 435.5,59.2 432.8,58.8 422.5,57.8 419.0,57.5 412.5,57.2 409.5,57.0 406.0,56.8 402.8,56.4 399.2,56.0 396.2,55.5 393.5,54.9 390.8,54.2 389.2,53.8 387.8,53.3 384.8,52.2 383.2,51.6 381.5,50.8 378.2,49.3 375.5,47.9 372.2,46.1 369.8,44.7 363.9,41.2 361.2,39.7 358.8,38.4 356.5,37.3 354.2,36.3 352.0,35.5 350.0,34.9 348.0,34.5 346.8,34.3 345.5,34.1 344.2,34.0 342.8,34.0 341.5,34.0 340.0,34.0 338.5,34.1 337.0,34.3 334.2,34.7 331.5,35.2 329.0,35.7 323.0,37.0 320.0,37.6 317.0,38.1 314.5,38.3 313.2,38.4 312.0,38.4 310.8,38.4 309.8,38.3 308.5,38.2 307.2,38.0 306.0,37.8 304.8,37.6 302.2,36.9 299.5,36.1 297.0,35.3 290.8,33.1 287.5,32.1 284.0,31.0 280.5,30.1 276.2,29.1 272.0,28.3 268.5,27.7 260.2,26.3 256.2,25.6 254.2,25.2 252.5,24.8 249.0,23.8 245.8,22.8 241.8,21.5 231.8,17.9 226.8,16.0 223.5,14.8 220.8,13.7 211.5,9.8 209.5,9.0 207.8,8.4 205.2,7.6 202.8,7.0 201.5,6.7 200.2,6.5 199.0,6.4 197.8,6.2 195.8,6.1 194.0,6.1 192.2,6.2 190.5,6.4 188.8,6.7 187.0,7.1 185.2,7.6 183.5,8.2 181.8,8.9 179.8,9.8 177.8,10.8 175.5,12.0 173.2,13.3 171.0,14.8 169.0,16.1 167.0,17.6 165.5,18.7 164.2,19.8 162.8,21.0 161.5,22.2 160.2,23.5 159.0,24.8 157.8,26.1 156.5,27.6 154.1,30.5 151.5,34.0 148.7,37.8 143.5,44.9 141.8,47.3 140.0,49.5 138.2,51.5 137.2,52.6 136.5,53.3 135.8,53.9 135.0,54.5 134.0,55.2 133.2,55.5 132.5,55.9 131.8,56.1 131.0,56.2 130.2,56.3 129.5,56.2 128.8,56.1 128.0,55.8 127.5,55.6 126.8,55.1 126.0,54.6 124.8,53.6 123.5,52.3 122.2,51.0 118.5,46.8 116.8,44.9 114.9,43.0 113.1,41.2 111.0,39.5 109.2,38.1 108.2,37.5 107.2,36.8 106.2,36.3 105.5,35.9 104.0,35.3 102.5,34.8 100.8,34.4 99.0,34.1 97.5,34.0 95.8,33.9 89.8,33.8 87.8,33.7 85.8,33.6 84.0,33.4M98.1,207.0 100.0,206.3 101.5,205.7 103.0,205.0 104.2,204.4 106.8,203.0 112.5,199.6 114.0,198.8 115.5,198.0 117.0,197.4 118.2,197.0 119.5,196.8 120.2,196.7 120.8,196.7 121.5,196.7 122.2,196.9 122.8,197.0 123.5,197.3 124.0,197.5 124.8,197.9 125.5,198.4 126.2,198.9 127.0,199.5 128.0,200.4 129.8,202.1 131.8,204.2 134.3,207.0M459.0,56.7 454.2,55.0 449.8,53.4 445.5,52.1 441.8,51.0 438.5,50.2 435.0,49.4 431.0,48.6 424.8,47.5 423.0,47.2 421.2,47.0 419.8,46.9 418.2,46.9 415.5,46.9 409.2,47.2 406.2,47.2 403.2,47.2 400.5,47.1 397.5,46.9 394.8,46.5 392.0,46.0 389.5,45.5 388.2,45.1 386.8,44.6 384.0,43.6 381.0,42.4 378.0,41.0 375.2,39.6 372.5,38.1 369.8,36.6 364.2,33.4 361.5,31.9 359.0,30.6 356.8,29.6 354.5,28.6 352.2,27.8 350.2,27.3 348.2,26.8 347.0,26.7 345.8,26.5 344.5,26.5 343.0,26.4 341.8,26.5 340.2,26.5 338.8,26.7 337.2,26.9 334.8,27.3 331.8,27.9 329.2,28.5 323.2,30.0 320.2,30.6 317.2,31.2 314.8,31.5 313.5,31.6 312.2,31.7 311.0,31.7 309.8,31.6 308.5,31.5 307.2,31.4 306.0,31.1 304.8,30.9 302.2,30.3 299.2,29.4 296.5,28.5 290.0,26.3 286.2,25.1 282.5,24.0 278.5,23.0 274.5,22.1 270.5,21.4 267.0,20.9 259.0,19.9 255.0,19.3 253.0,18.9 251.2,18.5 249.2,18.0 247.2,17.5 244.0,16.5 240.0,15.3 231.2,12.3 226.0,10.5 223.0,9.3 220.2,8.3 211.0,4.4 209.0,3.6 207.2,3.0 204.8,2.3 202.2,1.7 201.0,1.4 199.8,1.2 197.5,1.0 195.8,0.9 194.0,0.9 192.2,1.0 190.5,1.1 188.8,1.4 187.0,1.8 185.5,2.2 183.8,2.8 182.0,3.4 180.0,4.3 178.0,5.3 176.0,6.3 173.8,7.6 171.2,9.0 169.0,10.5 167.0,11.8 165.5,12.9 164.2,13.9 163.0,14.9 161.8,15.9 160.5,17.1 159.3,18.2 158.2,19.3 157.0,20.6 154.9,23.0 152.4,26.0 150.0,29.0 144.5,36.0 142.8,38.2 141.0,40.3 139.5,41.9 138.5,42.9 137.8,43.5 137.0,44.1 136.2,44.7 135.5,45.1 134.8,45.5 134.0,45.8 133.2,46.0 132.5,46.2 131.8,46.2 131.0,46.2 130.2,46.0 129.5,45.8 128.8,45.5 128.0,45.1 127.5,44.8 126.5,44.0 125.2,42.9 124.0,41.6 121.0,38.3 119.2,36.5 117.2,34.6 115.2,32.9 113.0,31.1 111.8,30.2 110.8,29.6 109.5,28.8 108.5,28.3 107.5,27.8 106.5,27.4 105.5,27.0 104.8,26.8 103.2,26.4 101.5,26.1 99.8,25.9 98.2,25.9 96.5,25.9 90.5,26.2 88.2,26.3 86.0,26.2 84.0,26.1"/>

<path d="M454.06 204.20v-2.3M454.06 0.50v2.3M445.74 204.20v-2.3M445.74 0.50v2.3M437.41 204.20v-4.0M437.41 0.50v4.0M429.08 204.20v-2.3M429.08 0.50v2.3M420.76 204.20v-2.3M420.76 0.50v2.3M412.43 204.20v-2.3M412.43 0.50v2.3M404.11 204.20v-2.3M404.11 0.50v2.3M395.78 204.20v-4.0M395.78 0.50v4.0M387.45 204.20v-2.3M387.45 0.50v2.3M379.13 204.20v-2.3M379.13 0.50v2.3M370.80 204.20v-2.3M370.80 0.50v2.3M362.48 204.20v-2.3M362.48 0.50v2.3M354.15 204.20v-4.0M354.15 0.50v4.0M345.82 204.20v-2.3M345.82 0.50v2.3M337.50 204.20v-2.3M337.50 0.50v2.3M329.17 204.20v-2.3M329.17 0.50v2.3M320.85 204.20v-2.3M320.85 0.50v2.3M312.52 204.20v-4.0M312.52 0.50v4.0M304.19 204.20v-2.3M304.19 0.50v2.3M295.87 204.20v-2.3M295.87 0.50v2.3M287.54 204.20v-2.3M287.54 0.50v2.3M279.22 204.20v-2.3M279.22 0.50v2.3M270.89 204.20v-4.0M270.89 0.50v4.0M262.56 204.20v-2.3M262.56 0.50v2.3M254.24 204.20v-2.3M254.24 0.50v2.3M245.91 204.20v-2.3M245.91 0.50v2.3M237.59 204.20v-2.3M237.59 0.50v2.3M229.26 204.20v-4.0M229.26 0.50v4.0M220.93 204.20v-2.3M220.93 0.50v2.3M212.61 204.20v-2.3M212.61 0.50v2.3M204.28 204.20v-2.3M204.28 0.50v2.3M195.96 204.20v-2.3M195.96 0.50v2.3M187.63 204.20v-4.0M187.63 0.50v4.0M179.30 204.20v-2.3M179.30 0.50v2.3M170.98 204.20v-2.3M170.98 0.50v2.3M162.65 204.20v-2.3M162.65 0.50v2.3M154.33 204.20v-2.3M154.33 0.50v2.3M146.00 204.20v-4.0M146.00 0.50v4.0M137.67 204.20v-2.3M137.67 0.50v2.3M129.35 204.20v-2.3M129.35 0.50v2.3M121.02 204.20v-2.3M121.02 0.50v2.3M112.70 204.20v-2.3M112.70 0.50v2.3M104.37 204.20v-4.0M104.37 0.50v4.0M96.04 204.20v-2.3M96.04 0.50v2.3M87.72 204.20v-2.3M87.72 0.50v2.3M86.40 203.28h1.9M456.30 203.28h-1.9M86.40 194.94h1.9M456.30 194.94h-1.9M86.40 186.60h3.6M456.30 186.60h-3.6M86.40 178.26h1.9M456.30 178.26h-1.9M86.40 169.92h1.9M456.30 169.92h-1.9M86.40 161.58h1.9M456.30 161.58h-1.9M86.40 153.24h1.9M456.30 153.24h-1.9M86.40 144.90h3.6M456.30 144.90h-3.6M86.40 136.56h1.9M456.30 136.56h-1.9M86.40 128.22h1.9M456.30 128.22h-1.9M86.40 119.88h1.9M456.30 119.88h-1.9M86.40 111.54h1.9M456.30 111.54h-1.9M86.40 103.20h3.6M456.30 103.20h-3.6M86.40 94.86h1.9M456.30 94.86h-1.9M86.40 86.52h1.9M456.30 86.52h-1.9M86.40 78.18h1.9M456.30 78.18h-1.9M86.40 69.84h1.9M456.30 69.84h-1.9M86.40 61.50h3.6M456.30 61.50h-3.6M86.40 53.16h1.9M456.30 53.16h-1.9M86.40 44.82h1.9M456.30 44.82h-1.9M86.40 36.48h1.9M456.30 36.48h-1.9M86.40 28.14h1.9M456.30 28.14h-1.9M86.40 19.80h3.6M456.30 19.80h-3.6M86.40 11.46h1.9M456.30 11.46h-1.9M86.40 3.12h1.9M456.30 3.12h-1.9" stroke="#1a1a1a" stroke-width="1" fill="none"/>
<rect x="86.4" y="0.5" width="369.90" height="203.70" fill="none" stroke="#222" stroke-width="1.3"/>
<text x="104.37" y="214.7" text-anchor="middle" font-size="8.3" stroke="#1a1a1a" stroke-width="0.2">1</text>
<text x="146.00" y="214.7" text-anchor="middle" font-size="8.3" stroke="#1a1a1a" stroke-width="0.2">0</text>
<text x="187.63" y="214.7" text-anchor="middle" font-size="8.3" stroke="#1a1a1a" stroke-width="0.2">−1</text>
<text x="229.26" y="214.7" text-anchor="middle" font-size="8.3" stroke="#1a1a1a" stroke-width="0.2">−2</text>
<text x="270.89" y="214.7" text-anchor="middle" font-size="8.3" stroke="#1a1a1a" stroke-width="0.2">−3</text>
<text x="312.52" y="214.7" text-anchor="middle" font-size="8.3" stroke="#1a1a1a" stroke-width="0.2">−4</text>
<text x="354.15" y="214.7" text-anchor="middle" font-size="8.3" stroke="#1a1a1a" stroke-width="0.2">−5</text>
<text x="395.78" y="214.7" text-anchor="middle" font-size="8.3" stroke="#1a1a1a" stroke-width="0.2">−6</text>
<text x="437.41" y="214.7" text-anchor="middle" font-size="8.3" stroke="#1a1a1a" stroke-width="0.2">−7</text>
<text transform="translate(82.4 186.60) rotate(-90)" x="0" y="0" text-anchor="middle" font-size="8.8" stroke="#1a1a1a" stroke-width="0.2">−1</text>
<text transform="translate(82.4 144.90) rotate(-90)" x="0" y="0" text-anchor="middle" font-size="8.8" stroke="#1a1a1a" stroke-width="0.2">0</text>
<text transform="translate(82.4 103.20) rotate(-90)" x="0" y="0" text-anchor="middle" font-size="8.8" stroke="#1a1a1a" stroke-width="0.2">1</text>
<text transform="translate(82.4 61.50) rotate(-90)" x="0" y="0" text-anchor="middle" font-size="8.8" stroke="#1a1a1a" stroke-width="0.2">2</text>
<text transform="translate(82.4 19.80) rotate(-90)" x="0" y="0" text-anchor="middle" font-size="8.8" stroke="#1a1a1a" stroke-width="0.2">3</text>
<text transform="translate(69.6 152.3) rotate(-90)" font-size="7.95" stroke="#1a1a1a" stroke-width="0.2">Relative Declination</text>
<text transform="translate(69.6 74.2) rotate(-90)" font-size="8.2" stroke="#1a1a1a" stroke-width="0.2">(mas)</text>
<text x="228.3" y="226.3" font-size="7.95" stroke="#1a1a1a" stroke-width="0.2">Right Ascension</text>
<text x="293.0" y="226.3" font-size="8.4" stroke="#1a1a1a" stroke-width="0.2">(mas)</text>
<text x="86.9" y="235.9" font-size="6.5" fill="#111" stroke="#111" stroke-width="0.3">Map center:</text>
<text x="126.9" y="235.9" font-size="6.5" fill="#111" stroke="#111" stroke-width="0.3">RA:</text>
<text x="140.2" y="235.9" font-size="6.5" fill="#111" stroke="#111" stroke-width="0.3">12</text>
<text x="151.6" y="235.9" font-size="6.5" fill="#111" stroke="#111" stroke-width="0.3">19</text>
<text x="160.2" y="235.9" font-size="6.5" fill="#111" stroke="#111" stroke-width="0.3">23.216,</text>
<text x="187.6" y="235.9" font-size="6.5" fill="#111" stroke="#111" stroke-width="0.3">Dec:</text>
<text x="203.8" y="235.9" font-size="6.5" fill="#111" stroke="#111" stroke-width="0.3">+05</text>
<text x="218.0" y="235.9" font-size="6.5" fill="#111" stroke="#111" stroke-width="0.3">49</text>
<text x="226.7" y="235.9" font-size="6.5" fill="#111" stroke="#111" stroke-width="0.3">29.700</text>
<text x="251.8" y="235.9" font-size="6.5" fill="#111" stroke="#111" stroke-width="0.3">(2000.0)</text>
<path d="M267.2 87.95H440.4M356.0 0.5V173.9" stroke="#1a1a1a" stroke-width="1.8" fill="none"/>
<path d="M244.3 84.6H311.9M278.9 51.3V118.5" stroke="#1a1a1a" stroke-width="1.8" fill="none"/>
<path d="M188.1 127.6H203.8M195.8 120.0V135.2" stroke="#1a1a1a" stroke-width="1.8" fill="none"/>
<path d="M169.0 125.8H177.0M172.7 122.1V129.5" stroke="#1a1a1a" stroke-width="1.4" fill="none"/>
<path d="M151.8 138.6H157.8M154.8 135.6V141.6" stroke="#1a1a1a" stroke-width="1.3" fill="none"/>
<path d="M148.0 141.4H152.4M150.2 139.2V143.6" stroke="#1a1a1a" stroke-width="1.3" fill="none"/>
<path d="M144.2 144.6H147.8M146.0 142.8V146.4" stroke="#1a1a1a" stroke-width="1.5" fill="none"/>
<text x="346.5" y="80.9" text-anchor="middle" font-size="8.5" fill="#111" stroke="#111" stroke-width="0.2">1</text>
<text x="265.9" y="74.8" text-anchor="middle" font-size="8.5" fill="#111" stroke="#111" stroke-width="0.2">2</text>
<text x="191.0" y="113.3" text-anchor="middle" font-size="8.5" fill="#111" stroke="#111" stroke-width="0.2">5</text>
<text x="167.9" y="118.3" text-anchor="middle" font-size="8.5" fill="#111" stroke="#111" stroke-width="0.2">8</text>
<text x="161.1" y="147.9" text-anchor="middle" font-size="8.5" fill="#111" stroke="#111" stroke-width="0.2">15</text>
<text x="142.9" y="136.6" text-anchor="middle" font-size="8.5" fill="#111" stroke="#111" stroke-width="0.2">22</text>
<text x="140.9" y="156.1" text-anchor="middle" font-size="8.5" fill="#111" stroke="#111" stroke-width="0.2">43</text>
<path d="M31.50 408.90v-4.6M31.50 251.20v4.6M64.22 408.90v-2.3M64.22 251.20v2.3M83.36 408.90v-2.3M83.36 251.20v2.3M96.94 408.90v-2.3M96.94 251.20v2.3M107.48 408.90v-2.3M107.48 251.20v2.3M116.09 408.90v-2.3M116.09 251.20v2.3M123.36 408.90v-2.3M123.36 251.20v2.3M129.67 408.90v-2.3M129.67 251.20v2.3M135.23 408.90v-2.3M135.23 251.20v2.3M140.20 408.90v-4.6M140.20 251.20v4.6M172.92 408.90v-2.3M172.92 251.20v2.3M192.06 408.90v-2.3M192.06 251.20v2.3M205.64 408.90v-2.3M205.64 251.20v2.3M216.18 408.90v-2.3M216.18 251.20v2.3M224.79 408.90v-2.3M224.79 251.20v2.3M232.06 408.90v-2.3M232.06 251.20v2.3M238.37 408.90v-2.3M238.37 251.20v2.3M243.93 408.90v-2.3M243.93 251.20v2.3M31.50 408.90h4.6M248.90 408.90h-4.6M31.50 389.19h4.6M248.90 389.19h-4.6M31.50 369.47h4.6M248.90 369.47h-4.6M31.50 349.76h4.6M248.90 349.76h-4.6M31.50 330.05h4.6M248.90 330.05h-4.6M31.50 310.34h4.6M248.90 310.34h-4.6M31.50 290.62h4.6M248.90 290.62h-4.6M31.50 270.91h4.6M248.90 270.91h-4.6M31.50 251.20h4.6M248.90 251.20h-4.6" stroke="#1c1c1c" stroke-width="1.4" fill="none"/>
<rect x="31.5" y="251.2" width="217.40" height="157.70" fill="none" stroke="#1c1c1c" stroke-width="1.8"/>
<text x="27.10" y="412.60" text-anchor="end" font-size="10.2" class="ct">-7</text>
<text x="27.10" y="392.89" text-anchor="end" font-size="10.2" class="ct">-6</text>
<text x="27.10" y="373.17" text-anchor="end" font-size="10.2" class="ct">-5</text>
<text x="27.10" y="353.46" text-anchor="end" font-size="10.2" class="ct">-4</text>
<text x="27.10" y="333.75" text-anchor="end" font-size="10.2" class="ct">-3</text>
<text x="27.10" y="314.04" text-anchor="end" font-size="10.2" class="ct">-2</text>
<text x="27.10" y="294.32" text-anchor="end" font-size="10.2" class="ct">-1</text>
<text x="27.10" y="274.61" text-anchor="end" font-size="10.2" class="ct">0</text>
<text x="27.10" y="254.90" text-anchor="end" font-size="10.2" class="ct">1</text>
<text x="32.70" y="422.5" text-anchor="middle" font-size="10.2" class="ct">1</text>
<text x="141.40" y="422.5" text-anchor="middle" font-size="10.2" class="ct">10</text>
<text x="250.10" y="422.5" text-anchor="middle" font-size="10.2" class="ct">100</text>
<clipPath id="cp31"><rect x="31.5" y="251.2" width="217.4" height="157.7"/></clipPath>
<path d="M31.50 435.65 L32.59 430.97 L33.67 426.43 L34.76 422.02 L35.85 417.73 L36.93 413.56 L38.02 409.50 L39.11 405.57 L40.20 401.74 L41.28 398.02 L42.37 394.40 L43.46 390.89 L44.54 387.47 L45.63 384.16 L46.72 380.93 L47.81 377.80 L48.89 374.75 L49.98 371.79 L51.07 368.91 L52.15 366.12 L53.24 363.40 L54.33 360.76 L55.41 358.19 L56.50 355.70 L57.59 353.27 L58.67 350.91 L59.76 348.62 L60.85 346.40 L61.94 344.24 L63.02 342.13 L64.11 340.09 L65.20 338.11 L66.28 336.18 L67.37 334.30 L68.46 332.48 L69.55 330.71 L70.63 328.99 L71.72 327.31 L72.81 325.69 L73.89 324.11 L74.98 322.57 L76.07 321.08 L77.15 319.63 L78.24 318.22 L79.33 316.85 L80.41 315.52 L81.50 314.22 L82.59 312.97 L83.68 311.74 L84.76 310.56 L85.85 309.40 L86.94 308.28 L88.02 307.19 L89.11 306.13 L90.20 305.10 L91.28 304.10 L92.37 303.13 L93.46 302.18 L94.55 301.26 L95.63 300.37 L96.72 299.50 L97.81 298.66 L98.89 297.84 L99.98 297.04 L101.07 296.27 L102.16 295.52 L103.24 294.79 L104.33 294.07 L105.42 293.38 L106.50 292.71 L107.59 292.06 L108.68 291.43 L109.76 290.81 L110.85 290.21 L111.94 289.63 L113.03 289.06 L114.11 288.51 L115.20 287.98 L116.29 287.46 L117.37 286.96 L118.46 286.47 L119.55 285.99 L120.63 285.53 L121.72 285.08 L122.81 284.64 L123.89 284.21 L124.98 283.80 L126.07 283.40 L127.16 283.01 L128.24 282.63 L129.33 282.26 L130.42 281.90 L131.50 281.56 L132.59 281.22 L133.68 280.89 L134.76 280.57 L135.85 280.26 L136.94 279.96 L138.03 279.66 L139.11 279.38 L140.20 279.10 L141.29 278.83 L142.37 278.57 L143.46 278.32 L144.55 278.07 L145.63 277.83 L146.72 277.59 L147.81 277.37 L148.90 277.15 L149.98 276.93 L151.07 276.72 L152.16 276.52 L153.24 276.33 L154.33 276.13 L155.42 275.95 L156.50 275.77 L157.59 275.59 L158.68 275.42 L159.77 275.26 L160.85 275.09 L161.94 274.94 L163.03 274.79 L164.11 274.64 L165.20 274.49 L166.29 274.35 L167.38 274.22 L168.46 274.09 L169.55 273.96 L170.64 273.83 L171.72 273.71 L172.81 273.60 L173.90 273.48 L174.98 273.37 L176.07 273.26 L177.16 273.16 L178.25 273.06 L179.33 272.96 L180.42 272.86 L181.51 272.77 L182.59 272.67 L183.68 272.59 L184.77 272.50 L185.85 272.42 L186.94 272.34 L188.03 272.26 L189.12 272.18 L190.20 272.11 L191.29 272.03 L192.38 271.96 L193.46 271.89 L194.55 271.83 L195.64 271.76 L196.72 271.70 L197.81 271.64 L198.90 271.58 L199.99 271.52 L201.07 271.47 L202.16 271.41 L203.25 271.36 L204.33 271.31 L205.42 271.26 L206.51 271.21 L207.59 271.16 L208.68 271.12 L209.77 271.07 L210.85 271.03 L211.94 270.99 L213.03 270.94 L214.12 270.90 L215.20 270.87 L216.29 270.83 L217.38 270.79 L218.46 270.76 L219.55 270.72 L220.64 270.69 L221.72 270.66 L222.81 270.62 L223.90 270.59 L224.99 270.56 L226.07 270.53 L227.16 270.51 L228.25 270.48 L229.33 270.45 L230.42 270.43 L231.51 270.40 L232.60 270.38 L233.68 270.35 L234.77 270.33 L235.86 270.31 L236.94 270.29 L238.03 270.26 L239.12 270.24 L240.20 270.22 L241.29 270.20 L242.38 270.18 L243.47 270.17 L244.55 270.15 L245.64 270.13 L246.73 270.11 L247.81 270.10 L248.90 270.08" stroke="#1c1c1c" stroke-width="1.8" fill="none" clip-path="url(#cp31)"/>
<path d="M45.12 365.89L50.32 371.09M45.12 371.09L50.32 365.89" stroke="#1c1c1c" stroke-width="1.5"/>
<path d="M47.72 327.68V408.90" stroke="#1c1c1c" stroke-width="1.6"/>
<path d="M67.50 327.45L72.70 332.65M67.50 332.65L72.70 327.45" stroke="#1c1c1c" stroke-width="1.5"/>
<path d="M70.10 314.48V345.43" stroke="#1c1c1c" stroke-width="1.6"/>
<path d="M104.40 291.57L109.60 296.77M104.40 296.77L109.60 291.57" stroke="#1c1c1c" stroke-width="1.5"/>
<path d="M105.00 291.67H109.00M105.00 296.67H109.00" stroke="#1c1c1c" stroke-width="1.0"/>
<path d="M129.76 278.37L134.96 283.57M129.76 283.57L134.96 278.37" stroke="#1c1c1c" stroke-width="1.5"/>
<path d="M130.36 278.47H134.36M130.36 283.47H134.36" stroke="#1c1c1c" stroke-width="1.0"/>
<path d="M157.68 272.06L162.88 277.26M157.68 277.26L162.88 272.06" stroke="#1c1c1c" stroke-width="1.5"/>
<path d="M158.28 272.16H162.28M158.28 277.16H162.28" stroke="#1c1c1c" stroke-width="1.0"/>
<path d="M175.04 270.68L180.24 275.88M175.04 275.88L180.24 270.68" stroke="#1c1c1c" stroke-width="1.5"/>
<path d="M175.64 270.78H179.64M175.64 275.78H179.64" stroke="#1c1c1c" stroke-width="1.0"/>
<path d="M206.57 267.92L211.77 273.12M206.57 273.12L211.77 267.92" stroke="#1c1c1c" stroke-width="1.5"/>
<path d="M207.17 268.02H211.17M207.17 273.02H211.17" stroke="#1c1c1c" stroke-width="1.0"/>
<text x="202.4" y="397.9" text-anchor="end" font-size="8.0" fill="#1c1c1c" class="ct">R.A.core shift (NGC 4261)</text>
<path d="M205.7 395.1H234.9" stroke="#1c1c1c" stroke-width="1.7"/>
<path d="M218.30 392.50L223.50 397.70M218.30 397.70L223.50 392.50" stroke="#1c1c1c" stroke-width="1.5"/>
<text transform="translate(7.0 395.3) rotate(-90)" font-size="9.1" class="ct">Relative Right Ascension&#160;&#160;[mas]</text>
<path d="M298.60 408.60v-4.6M298.60 250.70v4.6M331.14 408.60v-2.3M331.14 250.70v2.3M350.18 408.60v-2.3M350.18 250.70v2.3M363.68 408.60v-2.3M363.68 250.70v2.3M374.16 408.60v-2.3M374.16 250.70v2.3M382.72 408.60v-2.3M382.72 250.70v2.3M389.96 408.60v-2.3M389.96 250.70v2.3M396.22 408.60v-2.3M396.22 250.70v2.3M401.75 408.60v-2.3M401.75 250.70v2.3M406.70 408.60v-4.6M406.70 250.70v4.6M439.24 408.60v-2.3M439.24 250.70v2.3M458.28 408.60v-2.3M458.28 250.70v2.3M471.78 408.60v-2.3M471.78 250.70v2.3M482.26 408.60v-2.3M482.26 250.70v2.3M490.82 408.60v-2.3M490.82 250.70v2.3M498.06 408.60v-2.3M498.06 250.70v2.3M504.32 408.60v-2.3M504.32 250.70v2.3M509.85 408.60v-2.3M509.85 250.70v2.3M298.60 408.60h4.6M514.80 408.60h-4.6M298.60 388.86h4.6M514.80 388.86h-4.6M298.60 369.12h4.6M514.80 369.12h-4.6M298.60 349.39h4.6M514.80 349.39h-4.6M298.60 329.65h4.6M514.80 329.65h-4.6M298.60 309.91h4.6M514.80 309.91h-4.6M298.60 290.18h4.6M514.80 290.18h-4.6M298.60 270.44h4.6M514.80 270.44h-4.6M298.60 250.70h4.6M514.80 250.70h-4.6" stroke="#1c1c1c" stroke-width="1.4" fill="none"/>
<rect x="298.6" y="250.7" width="216.20" height="157.90" fill="none" stroke="#1c1c1c" stroke-width="1.8"/>
<text x="294.20" y="412.30" text-anchor="end" font-size="10.2" class="ct">-3</text>
<text x="294.20" y="392.56" text-anchor="end" font-size="10.2" class="ct">-2</text>
<text x="294.20" y="372.82" text-anchor="end" font-size="10.2" class="ct">-1</text>
<text x="294.20" y="353.09" text-anchor="end" font-size="10.2" class="ct">0</text>
<text x="294.20" y="333.35" text-anchor="end" font-size="10.2" class="ct">1</text>
<text x="294.20" y="313.61" text-anchor="end" font-size="10.2" class="ct">2</text>
<text x="294.20" y="293.88" text-anchor="end" font-size="10.2" class="ct">3</text>
<text x="294.20" y="274.14" text-anchor="end" font-size="10.2" class="ct">4</text>
<text x="294.20" y="254.40" text-anchor="end" font-size="10.2" class="ct">5</text>
<text x="299.80" y="422.5" text-anchor="middle" font-size="10.2" class="ct">1</text>
<text x="407.90" y="422.5" text-anchor="middle" font-size="10.2" class="ct">10</text>
<text x="516.00" y="422.5" text-anchor="middle" font-size="10.2" class="ct">100</text>
<clipPath id="cp298"><rect x="298.6" y="250.7" width="216.19999999999993" height="157.90000000000003"/></clipPath>
<path d="M298.60 297.97 L299.68 299.05 L300.76 300.10 L301.84 301.14 L302.92 302.15 L304.00 303.14 L305.09 304.11 L306.17 305.07 L307.25 306.00 L308.33 306.91 L309.41 307.81 L310.49 308.69 L311.57 309.55 L312.65 310.39 L313.73 311.21 L314.81 312.02 L315.90 312.81 L316.98 313.59 L318.06 314.35 L319.14 315.09 L320.22 315.82 L321.30 316.54 L322.38 317.24 L323.46 317.93 L324.54 318.60 L325.62 319.26 L326.71 319.90 L327.79 320.53 L328.87 321.15 L329.95 321.76 L331.03 322.35 L332.11 322.94 L333.19 323.51 L334.27 324.07 L335.35 324.61 L336.44 325.15 L337.52 325.68 L338.60 326.19 L339.68 326.70 L340.76 327.19 L341.84 327.67 L342.92 328.15 L344.00 328.61 L345.08 329.07 L346.16 329.52 L347.25 329.95 L348.33 330.38 L349.41 330.80 L350.49 331.21 L351.57 331.61 L352.65 332.01 L353.73 332.40 L354.81 332.77 L355.89 333.14 L356.97 333.51 L358.06 333.86 L359.14 334.21 L360.22 334.56 L361.30 334.89 L362.38 335.22 L363.46 335.54 L364.54 335.85 L365.62 336.16 L366.70 336.47 L367.78 336.76 L368.87 337.05 L369.95 337.34 L371.03 337.61 L372.11 337.89 L373.19 338.15 L374.27 338.42 L375.35 338.67 L376.43 338.92 L377.51 339.17 L378.59 339.41 L379.68 339.65 L380.76 339.88 L381.84 340.11 L382.92 340.33 L384.00 340.55 L385.08 340.76 L386.16 340.97 L387.24 341.17 L388.32 341.37 L389.40 341.57 L390.49 341.76 L391.57 341.95 L392.65 342.14 L393.73 342.32 L394.81 342.50 L395.89 342.67 L396.97 342.84 L398.05 343.01 L399.13 343.17 L400.21 343.33 L401.29 343.49 L402.38 343.64 L403.46 343.79 L404.54 343.94 L405.62 344.08 L406.70 344.23 L407.78 344.36 L408.86 344.50 L409.94 344.63 L411.02 344.76 L412.11 344.89 L413.19 345.02 L414.27 345.14 L415.35 345.26 L416.43 345.38 L417.51 345.49 L418.59 345.61 L419.67 345.72 L420.75 345.83 L421.83 345.93 L422.91 346.04 L424.00 346.14 L425.08 346.24 L426.16 346.34 L427.24 346.43 L428.32 346.53 L429.40 346.62 L430.48 346.71 L431.56 346.80 L432.64 346.88 L433.72 346.97 L434.81 347.05 L435.89 347.13 L436.97 347.21 L438.05 347.29 L439.13 347.37 L440.21 347.44 L441.29 347.52 L442.37 347.59 L443.45 347.66 L444.53 347.73 L445.62 347.79 L446.70 347.86 L447.78 347.93 L448.86 347.99 L449.94 348.05 L451.02 348.11 L452.10 348.17 L453.18 348.23 L454.26 348.29 L455.34 348.35 L456.43 348.40 L457.51 348.45 L458.59 348.51 L459.67 348.56 L460.75 348.61 L461.83 348.66 L462.91 348.71 L463.99 348.76 L465.07 348.80 L466.15 348.85 L467.24 348.89 L468.32 348.94 L469.40 348.98 L470.48 349.02 L471.56 349.07 L472.64 349.11 L473.72 349.15 L474.80 349.18 L475.88 349.22 L476.96 349.26 L478.05 349.30 L479.13 349.33 L480.21 349.37 L481.29 349.40 L482.37 349.44 L483.45 349.47 L484.53 349.50 L485.61 349.53 L486.69 349.56 L487.77 349.59 L488.86 349.62 L489.94 349.65 L491.02 349.68 L492.10 349.71 L493.18 349.74 L494.26 349.76 L495.34 349.79 L496.42 349.82 L497.50 349.84 L498.58 349.87 L499.67 349.89 L500.75 349.92 L501.83 349.94 L502.91 349.96 L503.99 349.98 L505.07 350.01 L506.15 350.03 L507.23 350.05 L508.31 350.07 L509.39 350.09 L510.48 350.11 L511.56 350.13 L512.64 350.15 L513.72 350.17 L514.80 350.18" stroke="#1c1c1c" stroke-width="1.8" fill="none" clip-path="url(#cp298)"/>
<path d="M311.80 322.31L317.00 327.51M311.80 327.51L317.00 322.31" stroke="#1c1c1c" stroke-width="1.5"/>
<path d="M314.40 284.25V365.18" stroke="#1c1c1c" stroke-width="1.6"/>
<path d="M334.28 319.15L339.48 324.36M334.28 324.36L339.48 319.15" stroke="#1c1c1c" stroke-width="1.5"/>
<path d="M336.88 305.97V337.35" stroke="#1c1c1c" stroke-width="1.6"/>
<path d="M371.09 338.89L376.29 344.09M371.09 344.09L376.29 338.89" stroke="#1c1c1c" stroke-width="1.5"/>
<path d="M371.69 338.99H375.69M371.69 343.99H375.69" stroke="#1c1c1c" stroke-width="1.0"/>
<path d="M395.91 338.30L401.11 343.50M395.91 343.50L401.11 338.30" stroke="#1c1c1c" stroke-width="1.5"/>
<path d="M396.51 338.40H400.51M396.51 343.40H400.51" stroke="#1c1c1c" stroke-width="1.0"/>
<path d="M424.07 344.22L429.27 349.42M424.07 349.42L429.27 344.22" stroke="#1c1c1c" stroke-width="1.5"/>
<path d="M424.67 344.32H428.67M424.67 349.32H428.67" stroke="#1c1c1c" stroke-width="1.0"/>
<path d="M441.33 345.60L446.53 350.80M441.33 350.80L446.53 345.60" stroke="#1c1c1c" stroke-width="1.5"/>
<path d="M441.93 345.70H445.93M441.93 350.70H445.93" stroke="#1c1c1c" stroke-width="1.0"/>
<path d="M472.69 346.98L477.89 352.18M472.69 352.18L477.89 346.98" stroke="#1c1c1c" stroke-width="1.5"/>
<path d="M473.29 347.08H477.29M473.29 352.08H477.29" stroke="#1c1c1c" stroke-width="1.0"/>
<text x="468.6" y="397.4" text-anchor="end" font-size="8.05" fill="#1c1c1c" class="ct">Decl. core shift (J1222+0413)</text>
<path d="M472 394.6H502.1" stroke="#1c1c1c" stroke-width="1.7"/>
<path d="M484.60 392.00L489.80 397.20M484.60 397.20L489.80 392.00" stroke="#1c1c1c" stroke-width="1.5"/>
<text transform="translate(275.6 381.3) rotate(-90)" font-size="9.1" class="ct">Relative Declination</text>
<text transform="translate(275.6 290.7) rotate(-90)" font-size="9.1" class="ct">[mas]</text>
<text x="95.3" y="436.8" font-size="8.9" class="ct">Frequency</text>
<text x="153.5" y="436.8" font-size="8.9" class="ct">[GHz]</text>
<text x="369.6" y="435.9" font-size="9.2" class="ct">Frequency</text>
<text x="428.0" y="435.9" font-size="9.2" class="ct">[GHz]</text>
</svg>
</body></html>
